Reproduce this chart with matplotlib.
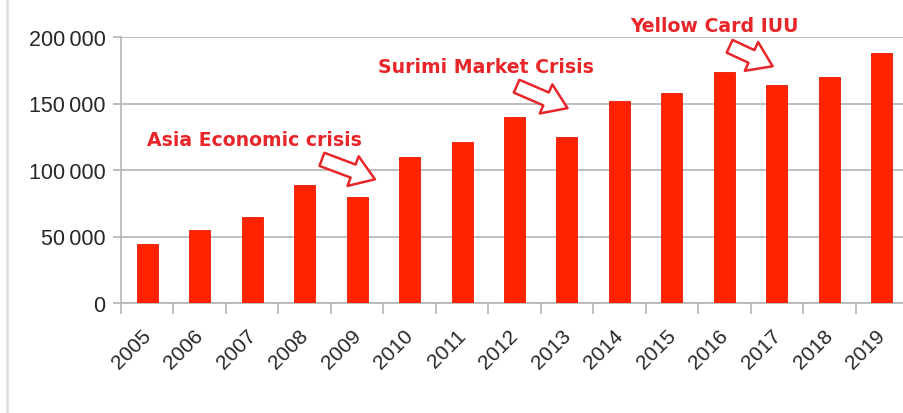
import matplotlib.pyplot as plt
import matplotlib.transforms as mtransforms
from matplotlib.ticker import FuncFormatter, MultipleLocator
from matplotlib.lines import Line2D

years = ['2005', '2006', '2007', '2008', '2009', '2010', '2011', '2012',
         '2013', '2014', '2015', '2016', '2017', '2018', '2019']
production = [44000, 55000, 65000, 89000, 80000, 110000, 121000, 140000,
              125000, 152000, 158000, 174000, 164000, 170000, 188000]

events = ['Asia Economic crisis', 'Surimi Market Crisis', 'Yellow Card IUU']

bar_red = '#ff2200'
text_red = '#e8262a'
grid_gray = '#b4b4b4'

plt.rcParams['font.family'] = ['Liberation Sans', 'DejaVu Sans']

fig = plt.figure(figsize=(9.04, 4.14), dpi=100)
ax = fig.add_axes([121 / 904, 110 / 414, 787 / 904, 266 / 414])

x = range(len(years))
ax.bar(x, production, width=0.4, color=bar_red, edgecolor='#e81c00',
       linewidth=0.6, zorder=3)

ax.set_xlim(-0.5, len(years) - 0.5)
ax.set_ylim(0, 200000)
ax.yaxis.set_major_locator(MultipleLocator(50000))
ax.yaxis.set_major_formatter(
    FuncFormatter(lambda v, p: f'{int(v):,}'.replace(',', '\u2009')))
ax.grid(axis='y', color=grid_gray, linewidth=1.2, zorder=0)

ax.set_xticks([i - 0.5 for i in x], minor=False)
ax.set_xticklabels([])
ax.set_xticks(list(x), minor=True)
ax.set_xticklabels(years, minor=True, rotation=45, ha='right', va='top',
                   rotation_mode='anchor', fontsize=15, color='#262626')
ax.tick_params(axis='x', which='major', length=8, color=grid_gray, width=1.2)
ax.tick_params(axis='x', which='minor', length=0, pad=16)
ax.tick_params(axis='y', length=6, color=grid_gray, width=1.2,
               labelsize=15.5, labelcolor='#262626', pad=5)

# nudge the year labels a little to the left
shift = mtransforms.ScaledTranslation(-6 / 100, 0, fig.dpi_scale_trans)
for lbl in ax.get_xticklabels(minor=True):
    lbl.set_transform(lbl.get_transform() + shift)

for side in ['top', 'right']:
    ax.spines[side].set_visible(False)
for side in ['left', 'bottom']:
    ax.spines[side].set_color(grid_gray)
    ax.spines[side].set_linewidth(1.2)

# event labels with hollow arrows pointing at the dip
label_pos = [(0.0, 123000), (4.4, 178000), (9.2, 209000)]
arrow_pos = [((3.33, 108000), (4.34, 93000)),
             ((7.04, 163000), (8.01, 146500)),
             ((11.1, 193000), (11.92, 178000))]
for name, (tx, ty), (tail, tip) in zip(events, label_pos, arrow_pos):
    ax.text(tx, ty, name, color=text_red, fontsize=13.6, fontweight='bold',
            family='DejaVu Sans', ha='left', va='center', zorder=5)
    ax.annotate('', xy=tip, xytext=tail, annotation_clip=False, zorder=5,
                arrowprops=dict(arrowstyle='simple,head_length=0.7,head_width=0.95,tail_width=0.42',
                                mutation_scale=24, fc='white', ec=text_red,
                                lw=1.8, shrinkA=0, shrinkB=0))

# thin frame line on the left edge
fig.add_artist(Line2D([7 / 904, 7 / 904], [0, 1], color='#e2e2e2', lw=2))

fig.savefig('out.png', dpi=100)
